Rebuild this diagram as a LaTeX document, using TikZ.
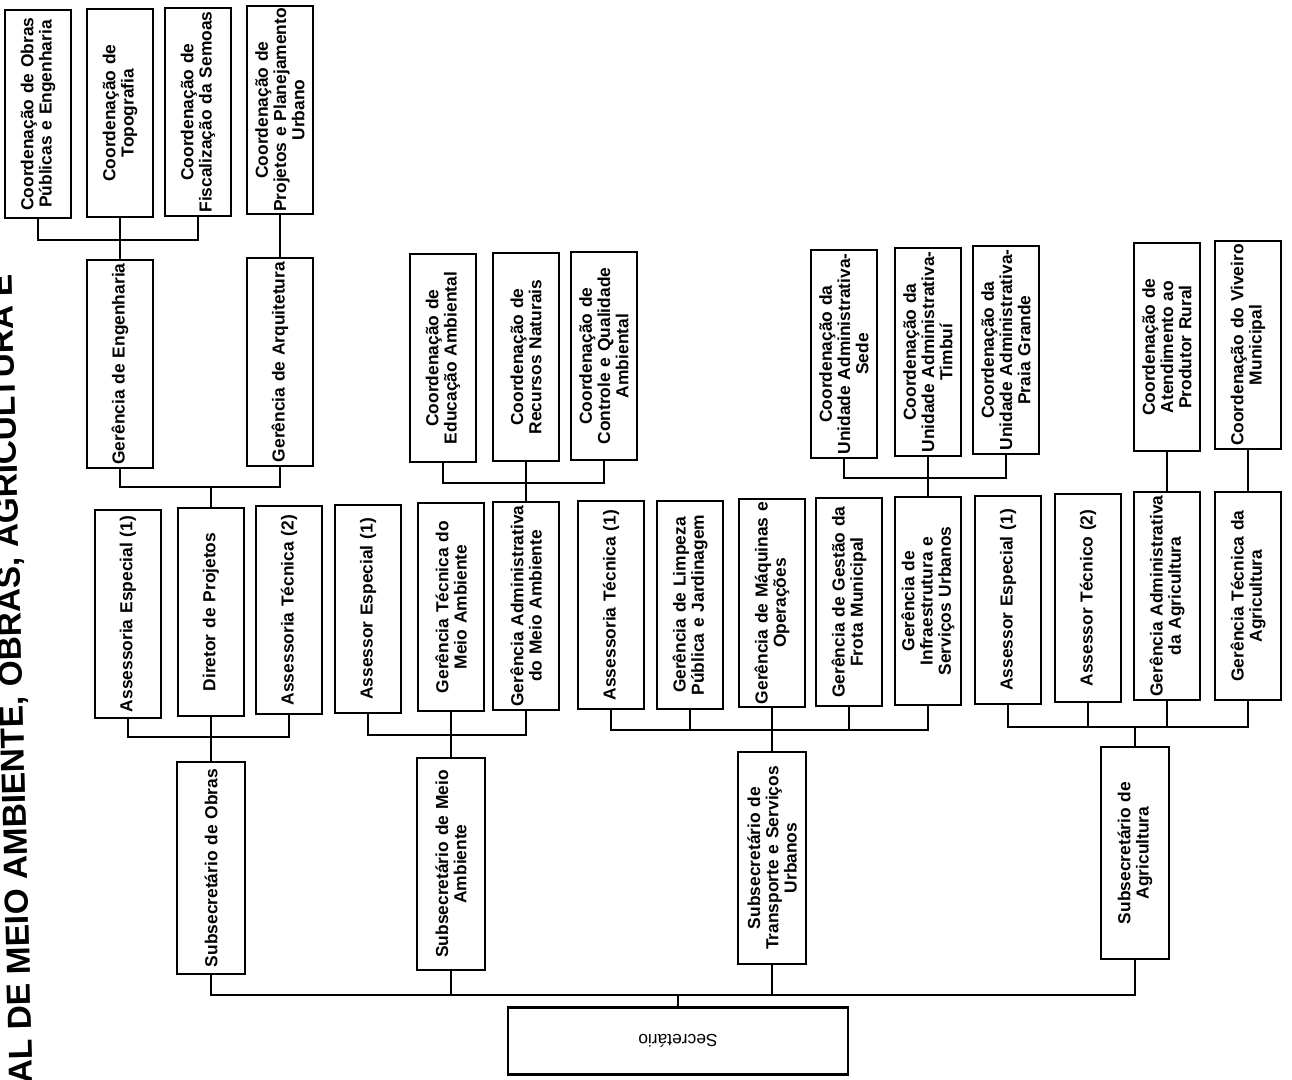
\documentclass[tikz,border=0pt]{standalone}
\usepackage{fontspec}
\setmainfont{Liberation Sans}
\usepackage{tikz}
\newcommand{\unitfont}{\fontsize{9.9}{10.4}\selectfont\bfseries}
\tikzstyle{unit} = [rectangle, draw=black, line width=1.5pt, rotate=90, minimum width=4.16cm, minimum height=1.32cm, inner sep=0pt, text width=4.12cm, align=center, font=\unitfont]
\tikzstyle{subunit} = [unit, minimum width=4.24cm, minimum height=1.36cm]
\tikzstyle{chief} = [rectangle, draw=black, line width=1.5pt, rotate=180, minimum width=6.8cm, minimum height=1.34cm, font=\fontsize{9.9}{10.4}\selectfont]
\tikzstyle{link} = [draw=black, line width=1.5pt]
\tikzstyle{pagetitle} = [rotate=91.5, anchor=base west, inner sep=0pt, font=\fontsize{19}{22}\selectfont\bfseries]

\begin{document}
\begin{tikzpicture}[x=0.02cm, y=-0.02cm]
\useasboundingbox (0,0) rectangle (1292,1079);
% Page title, cut by the left edge
\node[pagetitle] (titulo) at (33,1084) {AL DE MEIO AMBIENTE, OBRAS, AGRICULTURA E};
% Secretary and sub-secretaries
\node[chief] (sec) at (678,1041) {Secret\'ario};
\node[subunit] (sub-obras) at (211,868) {Subsecret\'ario de Obras};
\node[subunit] (sub-ma) at (451,864) {Subsecret\'ario de Meio\\Ambiente};
\node[subunit] (sub-tr) at (772,858) {Subsecret\'ario de\\Transporte e Servi\c{c}os\\Urbanos};
\node[subunit] (sub-ag) at (1135,853) {Subsecret\'ario de\\Agricultura};
% Obras: second row
\node[unit] (ae-obras) at (128,614) {Assessoria Especial (1)};
\node[unit] (dir-proj) at (211,612) {Diretor de Projetos};
\node[unit] (at-obras) at (289,610) {Assessoria T\'ecnica (2)};
% Obras: managements and coordinations
\node[unit] (ger-eng) at (120,364) {Ger\^encia de Engenharia};
\node[unit] (ger-arq) at (280,362) {Ger\^encia de Arquitetura};
\node[unit] (c-obras) at (38,114) {Coordena\c{c}\~ao de Obras\\P\'ublicas e Engenharia};
\node[unit] (c-topo) at (120,113) {Coordena\c{c}\~ao de\\Topografia};
\node[unit] (c-fisc) at (198,112) {Coordena\c{c}\~ao de\\Fiscaliza\c{c}\~ao da Semoas};
\node[unit] (c-proj) at (280,110) {Coordena\c{c}\~ao de\\Projetos e Planejamento\\Urbano};
% Meio Ambiente
\node[unit] (as-ma) at (368,609) {Assessor Especial (1)};
\node[unit] (gt-ma) at (451,607) {Ger\^encia T\'ecnica do\\Meio Ambiente};
\node[unit] (ga-ma) at (526,606) {Ger\^encia Administrativa\\do Meio Ambiente};
\node[unit] (c-educ) at (443,358) {Coordena\c{c}\~ao de\\Educa\c{c}\~ao Ambiental};
\node[unit] (c-recur) at (526,357) {Coordena\c{c}\~ao de\\Recursos Naturais};
\node[unit] (c-contr) at (604,356) {Coordena\c{c}\~ao de\\Controle e Qualidade\\Ambiental};
% Transporte e Servicos Urbanos
\node[unit] (at-tr) at (611,605) {Assessoria T\'ecnica (1)};
\node[unit] (g-limp) at (690,605) {Ger\^encia de Limpeza\\P\'ublica e Jardinagem};
\node[unit] (g-maq) at (772,603) {Ger\^encia de M\'aquinas e\\Opera\c{c}\~oes};
\node[unit] (g-frota) at (849,602) {Ger\^encia de Gest\~ao da\\Frota Municipal};
\node[unit] (g-infra) at (928,601) {Ger\^encia de\\Infraestrutura e\\Servi\c{c}os Urbanos};
\node[unit] (c-sede) at (844,354) {Coordena\c{c}\~ao da\\Unidade Administrativa-\\Sede};
\node[unit] (c-timb) at (928,352) {Coordena\c{c}\~ao da\\Unidade Administrativa-\\Timbu\'i};
\node[unit] (c-praia) at (1006,350) {Coordena\c{c}\~ao da\\Unidade Administrativa-\\Praia Grande};
% Agricultura
\node[unit] (ae-ag) at (1008,600) {Assessor Especial (1)};
\node[unit] (at-ag) at (1088,598) {Assessor T\'ecnico (2)};
\node[unit] (ga-ag) at (1167,596) {Ger\^encia Administrativa\\da Agricultura};
\node[unit] (gt-ag) at (1248,596) {Ger\^encia T\'ecnica da\\Agricultura};
\node[unit] (c-atend) at (1167,347) {Coordena\c{c}\~ao de\\Atendimento ao\\Produtor Rural};
\node[unit] (c-viv) at (1248,345) {Coordena\c{c}\~ao do Viveiro\\Municipal};
% Bus points
\coordinate (bus-sec) at (678,995);
\coordinate (bus-obras) at (211,737);
\coordinate (bus-ger) at (211,487);
\coordinate (bus-coord) at (120,240);
\coordinate (bus-ma) at (451,735);
\coordinate (bus-recur) at (526,483);
\coordinate (bus-tr) at (772,730);
\coordinate (bus-unid) at (928,478);
\coordinate (bus-ag) at (1135,727);
% Connectors
\draw[link] (sub-obras.west) |- (bus-sec) -| (sub-ag.west);
\draw[link] (sub-ma.west) -- (sub-ma.west |- bus-sec);
\draw[link] (sub-tr.west) -- (sub-tr.west |- bus-sec);
\draw[link] (bus-sec) -- (sec.south);
\draw[link] (ae-obras.west) |- (bus-obras) -| (at-obras.west);
\draw[link] (dir-proj.west) -- (sub-obras.east);
\draw[link] (ger-eng.west) |- (bus-ger) -| (ger-arq.west);
\draw[link] (bus-ger) -- (dir-proj.east);
\draw[link] (c-obras.west) |- (bus-coord) -| (c-fisc.west);
\draw[link] (c-topo.west) -- (ger-eng.east);
\draw[link] (c-proj.west) -- (ger-arq.east);
\draw[link] (as-ma.west) |- (bus-ma) -| (ga-ma.west);
\draw[link] (gt-ma.west) -- (sub-ma.east);
\draw[link] (c-educ.west) |- (bus-recur) -| (c-contr.west);
\draw[link] (c-recur.west) -- (ga-ma.east);
\draw[link] (at-tr.west) |- (bus-tr) -| (g-infra.west);
\draw[link] (g-limp.west) -- (g-limp.west |- bus-tr);
\draw[link] (g-frota.west) -- (g-frota.west |- bus-tr);
\draw[link] (g-maq.west) -- (sub-tr.east);
\draw[link] (c-sede.west) |- (bus-unid) -| (c-praia.west);
\draw[link] (c-timb.west) -- (g-infra.east);
\draw[link] (ae-ag.west) |- (bus-ag) -| (gt-ag.west);
\draw[link] (at-ag.west) -- (at-ag.west |- bus-ag);
\draw[link] (ga-ag.west) -- (ga-ag.west |- bus-ag);
\draw[link] (bus-ag) -- (sub-ag.east);
\draw[link] (c-atend.west) -- (ga-ag.east);
\draw[link] (c-viv.west) -- (gt-ag.east);
\end{tikzpicture}
\end{document}
